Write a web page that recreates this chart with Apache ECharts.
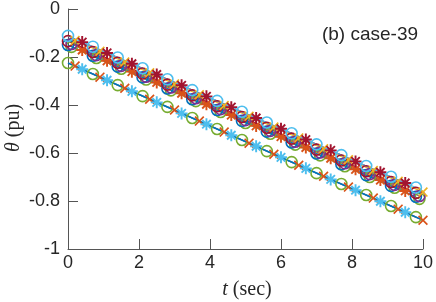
<!DOCTYPE html>
<html>
<head>
<meta charset="utf-8">
<script src="https://cdn.jsdelivr.net/npm/echarts@6/dist/echarts.min.js"></script>
<style>html,body{margin:0;padding:0;background:#fff}#c{width:436px;height:302px}</style>
</head>
<body>
<div id="c"></div>
<script>
// marker times (sec)
const T0 = [0,0.7,1.4,2.1,2.8,3.5,4.2,4.9,5.6,6.3,7.0,7.7,8.4,9.1,9.8];
const T1 = [0.1,0.8,1.5,2.2,2.9,3.6,4.3,5.0,5.7,6.4,7.1,7.8,8.5,9.2,9.9];
const T2 = [0.2,0.9,1.6,2.3,3.0,3.7,4.4,5.1,5.8,6.5,7.2,7.9,8.6,9.3,10.0];
const T4 = [0.4,1.1,1.8,2.5,3.2,3.9,4.6,5.3,6.0,6.7,7.4,8.1,8.8,9.5];
const xTicks = [0,2,4,6,8,10];
const yTicks = [-1,-0.8,-0.6,-0.4,-0.2,0];

// theta (pu) of each series at its marker times
const upLightBlueO = [-0.112,-0.157,-0.202,-0.247,-0.293,-0.338,-0.383,-0.428,-0.473,-0.518,-0.564,-0.609,-0.654,-0.699,-0.744];
const upDarkRedO   = [-0.134,-0.179,-0.224,-0.269,-0.315,-0.360,-0.405,-0.450,-0.495,-0.540,-0.586,-0.631,-0.676,-0.721,-0.766];
const upBlueO      = [-0.150,-0.195,-0.240,-0.285,-0.331,-0.376,-0.421,-0.466,-0.511,-0.556,-0.602,-0.647,-0.692,-0.737,-0.782];
const upPurpleO    = [-0.146,-0.192,-0.237,-0.282,-0.327,-0.372,-0.417,-0.463,-0.508,-0.553,-0.598,-0.643,-0.688,-0.733,-0.779];
const upGreenO     = [-0.158,-0.204,-0.249,-0.294,-0.339,-0.384,-0.429,-0.475,-0.520,-0.565,-0.610,-0.655,-0.700,-0.745,-0.791];
const upYellowX    = [-0.131,-0.176,-0.221,-0.266,-0.312,-0.357,-0.402,-0.447,-0.492,-0.537,-0.582,-0.628,-0.673,-0.718,-0.763];
const upDarkRedA   = [-0.138,-0.183,-0.228,-0.273,-0.318,-0.364,-0.409,-0.454,-0.499,-0.544,-0.589,-0.635,-0.680,-0.725];
const upOrangeA    = [-0.171,-0.216,-0.261,-0.306,-0.351,-0.397,-0.442,-0.487,-0.532,-0.577,-0.622,-0.668,-0.713,-0.758];
const loGreenO     = [-0.225,-0.271,-0.317,-0.363,-0.408,-0.454,-0.500,-0.546,-0.592,-0.638,-0.684,-0.729,-0.775,-0.821,-0.867];
const loOrangeX    = [-0.238,-0.284,-0.330,-0.376,-0.421,-0.467,-0.513,-0.559,-0.605,-0.651,-0.697,-0.742,-0.788,-0.834,-0.880];
const loLightBlueA = [-0.251,-0.297,-0.343,-0.389,-0.435,-0.480,-0.526,-0.572,-0.618,-0.664,-0.710,-0.755,-0.801,-0.847];
const loLineT = [0, 10];
const loLineV = [-0.225, -0.880];

const C = {blue:'#0072BD', orange:'#D95319', yellow:'#EDB120', purple:'#7E2F8E', green:'#77AC30', lightblue:'#4DBEEE', darkred:'#A2142F'};
const CROSS = 'path://M12,0L100,88L88,100L0,12Z M0,88L88,0L100,12L12,100Z';
const STAR = 'path://M0,42L100,42L100,58L0,58Z M42,0L58,0L58,100L42,100Z M20.3,9L91,79.7L79.7,91L9,20.3Z M9,79.7L79.7,9L91,20.3L20.3,91Z';

function zip(t, v){ return t.map((x,i)=>[x, v[i]]); }
function ser(t, v, color, kind){
  const s = {type:'line', data: zip(t,v), showAllSymbol:true, animation:false,
    lineStyle:{color:color, width:1.2}, silent:true};
  if (kind === 'o') {
    s.symbol = 'circle'; s.symbolSize = 11;
    s.itemStyle = {color:'rgba(0,0,0,0)', borderColor:color, borderWidth:1.6};
  } else if (kind === 'x') {
    s.symbol = CROSS; s.symbolSize = 10;
    s.itemStyle = {color:color, borderWidth:0};
  } else {
    s.symbol = STAR; s.symbolSize = 12;
    s.itemStyle = {color:color, borderWidth:0};
  }
  return s;
}

const series = [
  ser(T0, loGreenO, C.green, 'o'),
  ser(T2, loOrangeX, C.orange, 'x'),
  ser(T4, loLightBlueA, C.lightblue, '*'),
  {type:'line', data: zip(loLineT, loLineV), symbol:'none', lineStyle:{color:C.blue, width:1.5}, animation:false, silent:true},
  ser(T1, upGreenO, C.green, 'o'),
  ser(T4, upOrangeA, C.orange, '*'),
  ser(T0, upBlueO, C.blue, 'o'),
  ser(T1, upPurpleO, C.purple, 'o'),
  ser(T0, upDarkRedO, C.darkred, 'o'),
  ser(T2, upYellowX, C.yellow, 'x'),
  ser(T4, upDarkRedA, C.darkred, '*'),
  ser(T0, upLightBlueO, C.lightblue, 'o')
];

const axisCol = '#555';
const txtCol = '#262626';
const chart = echarts.init(document.getElementById('c'), null, {renderer:'canvas'});
chart.setOption({
  backgroundColor:'#fff',
  animation:false,
  grid:{left:68, right:10, top:7, bottom:53, containLabel:false},
  xAxis:{type:'value', min:xTicks[0], max:xTicks[xTicks.length-1], interval:2,
    axisLine:{show:true, onZero:false, lineStyle:{color:axisCol, width:1}},
    axisTick:{show:true, inside:true, length:10, lineStyle:{color:axisCol}},
    axisLabel:{color:txtCol, fontFamily:'Liberation Sans', fontSize:18, margin:5},
    splitLine:{show:false}},
  yAxis:{type:'value', min:yTicks[0], max:yTicks[yTicks.length-1], interval:0.2,
    axisLine:{show:true, onZero:false, lineStyle:{color:axisCol, width:1}},
    axisTick:{show:true, inside:true, length:10, lineStyle:{color:axisCol}},
    axisLabel:{color:txtCol, fontFamily:'Liberation Sans', fontSize:18, margin:8,
      formatter:v=>String(Math.round(v*10)/10)},
    splitLine:{show:false}},
  graphic:[
    {type:'text', x:247, y:290, style:{text:'{i|t} (sec)', fill:txtCol, font:'20px "Liberation Serif"', textAlign:'center', textVerticalAlign:'middle',
      rich:{i:{fontStyle:'italic', fontFamily:'Liberation Serif', fontSize:20, fill:txtCol}}}},
    {type:'text', x:14, y:128, rotation:Math.PI/2, style:{text:'{i|θ} (pu)', fill:txtCol, font:'20px "Liberation Serif"', textAlign:'center', textVerticalAlign:'middle',
      rich:{i:{fontStyle:'italic', fontFamily:'Liberation Serif', fontSize:20, fill:txtCol}}}},
    {type:'text', x:370, y:35, style:{text:'(b) case-39', fill:txtCol, font:'19px "Liberation Sans"', textAlign:'center', textVerticalAlign:'middle'}}
  ],
  series: series
});
</script>
</body>
</html>
